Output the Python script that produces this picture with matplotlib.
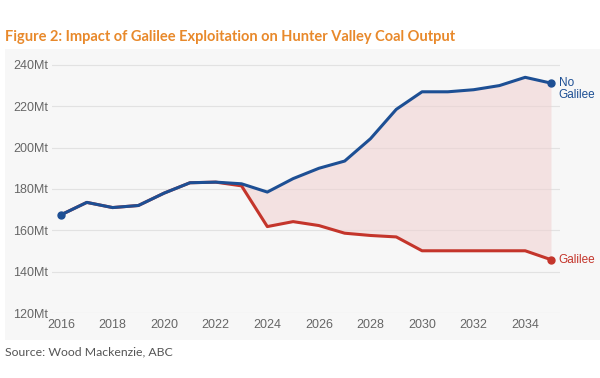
import numpy as np
import matplotlib.pyplot as plt

years = list(range(2016, 2036))
no_galilee = [167.5, 173.5, 171, 172, 178, 183, 183.3, 182.5, 178.5, 185,
              190, 193.5, 204.3, 218.5, 227, 227, 228, 230, 234, 231.2]
galilee = [167.5, 173.5, 171, 172, 178, 183, 183.3, 181.5, 161.8, 164.2,
           162.3, 158.6, 157.5, 156.8, 150.1, 150.1, 150.1, 150.1, 150.1, 145.8]
y_ticks = [120, 140, 160, 180, 200, 220, 240]
x_ticks = list(range(2016, 2036, 2))

blue = "#1d4f94"
red = "#c4352b"
panel = "#f7f7f7"

fig = plt.figure(figsize=(6, 3.78), dpi=100)
bg = fig.add_axes([5 / 600, 1 - 340 / 378, 595 / 600, 291 / 378])
bg.set_facecolor(panel)
bg.set_xticks([])
bg.set_yticks([])
for s in bg.spines.values():
    s.set_visible(False)

ax = fig.add_axes([52 / 600, 1 - 313 / 378, 508 / 600, 264 / 378])
ax.patch.set_alpha(0)

ax.fill_between(years, galilee, no_galilee, color="#f0d0d0", alpha=0.55, lw=0)
ax.plot(years, galilee, color=red, lw=2.2, solid_joinstyle="round")
ax.plot(years, no_galilee, color=blue, lw=2.2, solid_joinstyle="round")
ax.plot([years[0], years[-1]], [no_galilee[0], no_galilee[-1]], "o",
        color=blue, ms=5)
ax.plot([years[-1]], [galilee[-1]], "o", color=red, ms=5)

ax.text(years[-1] + 0.3, no_galilee[-1] + 3, "No\nGalilee", color=blue,
        fontsize=8.5, va="top", ha="left", linespacing=1.05,
        family="Liberation Sans", clip_on=False)
ax.text(years[-1] + 0.3, galilee[-1], "Galilee", color=red,
        fontsize=8.5, va="center", ha="left",
        family="Liberation Sans", clip_on=False)

ax.set_xlim(2015.65, 2035.35)
ax.set_ylim(120, 247.7)
ax.set_yticks(y_ticks)
ax.set_yticklabels([f"{v}Mt" for v in y_ticks])
ax.set_xticks(x_ticks)
ax.grid(axis="y", color="#e2e2e2", lw=0.8)
ax.set_axisbelow(True)
for s in ax.spines.values():
    s.set_visible(False)
ax.tick_params(length=0, labelsize=9, labelcolor="#666666")
ax.tick_params(axis="x", pad=4)
ax.tick_params(axis="y", pad=3)
for lbl in ax.get_xticklabels() + ax.get_yticklabels():
    lbl.set_family("Liberation Sans")

fig.text(5 / 600, 1 - 37 / 378, "Figure 2: Impact of Galilee Exploitation on Hunter Valley Coal Output",
         color="#e8892b", fontsize=10.5, fontweight="bold", family="Lato",
         va="center", ha="left")
fig.text(5 / 600, 1 - 352 / 378, "Source: Wood Mackenzie, ABC",
         color="#555555", fontsize=8.8, family="Lato", va="center", ha="left")

fig.savefig("out.png", dpi=100)
